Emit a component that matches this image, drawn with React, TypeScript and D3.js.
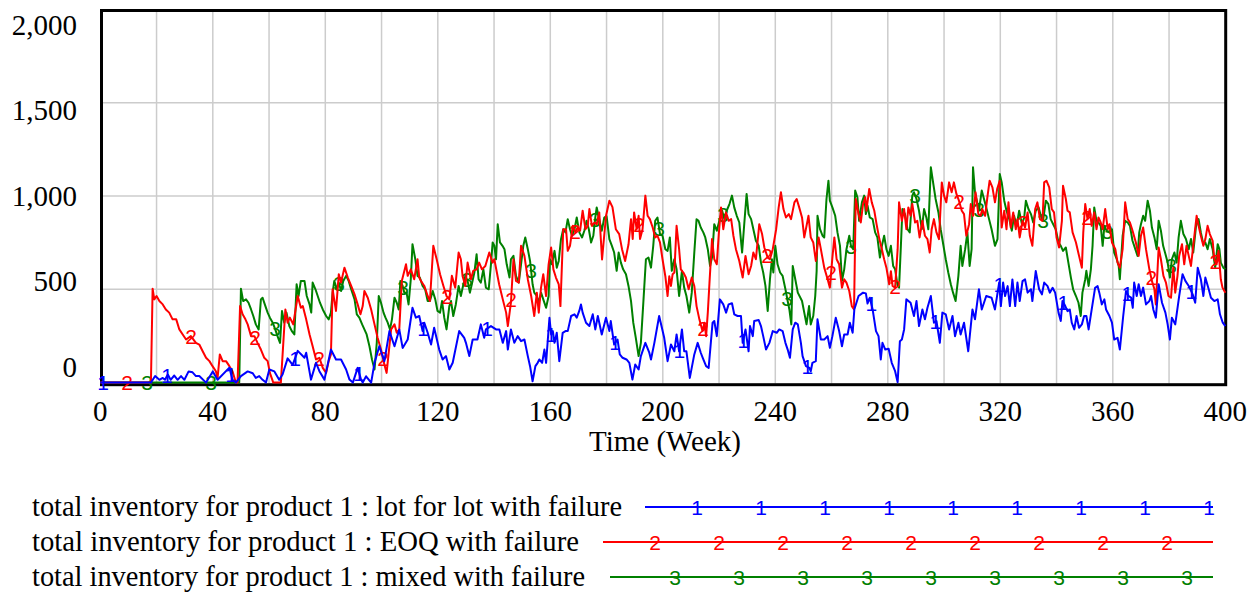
import React from "react";
import * as d3 from "d3";

type Pt = [number, number];

const lotForLot: Pt[] = [[0,0],[18,0],[19.5,35],[21,15],[22.2,25],[23,15],[24,43],[25,15],[26.3,38],[27.5,15],[28.7,35],[29.9,15],[31.4,60],[32.8,55],[34,35],[35.2,35],[37.6,0],[40,60],[41.7,15],[45.9,80],[47,15],[48.2,0],[50,35],[52.4,60],[54.2,50],[55.3,25],[56.5,35],[57.7,15],[58.9,0],[60.1,70],[61.9,60],[63.6,15],[64.8,43],[66.6,130],[68.4,95],[70.2,170],[72.6,133],[73.2,160],[74.9,16],[76.7,106],[77.9,61],[79.7,16],[82,177],[83.8,124],[85.6,124],[87.4,70],[88.6,16],[89.8,0],[91.5,79],[92.7,16],[93.3,0],[94.5,34],[96.3,0],[97.5,106],[99.2,195],[101,115],[102.8,276],[104.6,195],[106.3,285],[107.5,186],[109.3,231],[111,401],[112.2,348],[113.4,357],[114.6,276],[115.2,321],[116.4,267],[117.6,204],[118.7,294],[120.5,177],[121.7,124],[122.9,142],[124.1,70],[125.3,106],[127.6,276],[129.4,240],[130,213],[131.2,142],[132.4,231],[134.1,231],[135.3,312],[136.5,240],[137.1,285],[138.9,303],[140.7,285],[141.9,285],[143.1,213],[144.3,276],[144.9,177],[146,285],[147.2,213],[148.4,249],[149.6,222],[150.8,231],[152,142],[152.8,88],[153.7,7],[154.7,88],[155.5,106],[156.1,124],[157.1,106],[157.9,177],[158.5,106],[159.7,347],[160.3,258],[160.9,276],[161.5,213],[162.3,267],[163.2,115],[164.4,267],[165.4,276],[166.2,276],[167.4,357],[168.6,366],[169.4,348],[170.3,384],[170.9,419],[171.5,375],[172.7,321],[173.9,303],[175.1,366],[176,285],[176.9,357],[178.3,258],[179.8,348],[181,276],[181.5,330],[182.7,204],[183.9,231],[184.7,151],[185.7,133],[187.1,124],[188.1,106],[189.2,16],[190.2,97],[191.4,70],[192.2,142],[193.8,213],[195.2,160],[195.8,124],[197,213],[198.7,357],[200.5,240],[201.7,115],[202.9,204],[204.1,168],[204.9,258],[205.8,168],[206.8,285],[207.6,168],[208.4,168],[209.6,25],[211.2,151],[212.4,213],[213.5,160],[214.2,133],[215.4,88],[216.3,79],[217.7,321],[218.3,330],[219.2,249],[220.3,446],[221.5,419],[222.5,375],[223.4,419],[224.6,425],[225.4,366],[226.6,357],[227.8,357],[228.4,213],[229.4,285],[230.5,168],[231,303],[232,249],[232.5,330],[234.1,335],[234.9,303],[235.7,249],[236.7,177],[237.9,213],[239.1,276],[240.5,267],[241.4,285],[242.6,276],[243.6,213],[244.4,177],[245.2,133],[246.2,285],[247.1,321],[248,312],[249.1,213],[249.7,142],[250.9,88],[252.1,79],[252.6,61],[253.2,106],[254.4,115],[255,339],[256.2,231],[257.4,231],[258.6,249],[259.4,186],[260.3,249],[261.5,348],[262.7,276],[263.7,195],[264.5,258],[265.7,258],[266.5,321],[267.5,267],[268.1,392],[269.6,464],[271.2,482],[272.2,478],[272.8,424],[273.6,455],[274.6,392],[275.8,276],[276.7,249],[277.5,124],[278.1,213],[279.1,177],[280.3,181],[281.4,106],[282.6,61],[283.5,2],[284.3,222],[285,231],[285.8,285],[286.6,446],[288.1,428],[289.3,357],[290.2,437],[291.1,303],[292.3,392],[293.2,339],[294.1,401],[295.3,464],[296.4,321],[297.3,330],[298.5,213],[299.4,375],[300.6,366],[301.8,285],[303,357],[303.9,249],[305.1,321],[305.9,258],[307.1,321],[308.6,168],[310.1,392],[311,339],[312.4,500],[313.4,392],[315,464],[316.9,455],[318.1,392],[319.6,536],[320.2,410],[321,536],[321.7,464],[322.6,517],[323.4,410],[324.3,553],[325.3,410],[326.1,536],[326.9,437],[327.9,544],[328.8,553],[329.7,482],[330.9,500],[331.4,437],[332.6,598],[333.8,500],[334.8,473],[335.6,536],[336.8,517],[337.6,482],[338.6,508],[339.5,482],[340.7,375],[341.5,330],[342.1,437],[343.1,410],[343.9,383],[344.7,392],[345.4,321],[346.3,285],[347.1,357],[348,294],[349,312],[349.8,357],[350.6,357],[351.4,285],[352.5,392],[353.7,508],[354.6,517],[355.2,482],[356.1,419],[357,446],[357.6,392],[358.8,357],[359.7,321],[360.5,231],[361.7,240],[362.5,177],[363.7,357],[364.7,491],[365.6,464],[366.5,455],[367.1,401],[367.6,536],[368.5,464],[369.2,527],[370,464],[370.8,509],[371.8,419],[373,437],[373.6,464],[374.4,392],[375.3,348],[376.3,527],[377.5,428],[378.7,375],[379.5,312],[380.3,231],[381,348],[382.2,312],[383.6,464],[384.8,581],[385.8,545],[387,518],[388.4,473],[389.3,428],[390.2,616],[391.3,554],[392.2,464],[392.9,563],[394.1,500],[394.9,455],[396.1,437],[397.3,446],[398.1,366],[399.1,321],[400,303]];

const eoq: Pt[] = [[0,0],[18,0],[18.6,503],[19.2,446],[20,464],[21,437],[22.2,419],[23.3,392],[24.5,375],[25.7,339],[27,339],[28.1,285],[29.3,258],[30.5,231],[32.2,249],[34,213],[35.2,204],[36.4,168],[37.6,133],[38.8,115],[39.9,88],[41.1,61],[41.7,25],[42.5,151],[43.5,115],[44.7,115],[45.9,88],[47,61],[48.2,0],[48.8,0],[49.7,410],[50.6,366],[51.6,339],[52.4,312],[53.6,249],[54.8,249],[55.9,213],[57.1,177],[58.3,133],[59.5,115],[60.3,52],[61.5,0],[64.2,0],[65.8,392],[66.6,321],[67.4,348],[68.6,312],[70.2,464],[71.3,401],[72,410],[73.2,339],[74.4,258],[75.5,195],[76.7,124],[77.9,133],[79.1,79],[80.3,52],[81.2,115],[82,151],[82.6,500],[83.8,384],[84.8,581],[85.6,536],[86.8,616],[88,563],[89.2,518],[90.4,473],[91.5,419],[92.5,366],[93.3,410],[93.9,491],[95.1,455],[96.3,392],[97.5,312],[98.6,240],[99.8,177],[101,97],[101.8,52],[103.4,285],[104.6,312],[105.4,267],[106.3,285],[107.2,545],[108.7,634],[109.3,572],[110.4,607],[111.6,554],[112.8,661],[113.4,563],[114,545],[115.2,518],[116.4,464],[117.2,437],[118.4,733],[119.6,661],[120.8,581],[122,518],[123.1,464],[124.1,446],[125,572],[126.2,509],[127.4,697],[128.2,661],[128.8,572],[129.8,518],[130.6,643],[131.8,554],[132.6,599],[133.8,607],[134.7,643],[135.7,607],[136.9,625],[138.3,697],[139.5,643],[140.1,661],[141.8,527],[143.1,446],[144.3,375],[144.9,303],[146,428],[146.9,661],[147.8,545],[148.8,536],[149.6,733],[150.8,679],[152,554],[153.2,464],[154.3,357],[155.2,482],[155.9,375],[156.7,509],[157.5,581],[158.5,464],[159.4,634],[160.3,724],[161.1,607],[162,563],[163,527],[163.6,410],[164.6,822],[165.6,822],[166.2,706],[167,733],[168,840],[168.9,805],[169.7,831],[170.6,814],[171.5,921],[172.5,822],[173.3,840],[173.9,930],[174.8,840],[175.7,858],[176.5,849],[177.4,912],[178.4,660],[179.8,893],[181,975],[182.1,940],[183.3,822],[184.5,796],[185.5,715],[186.6,652],[187.8,740],[188.7,876],[189.3,770],[189.8,912],[190.7,822],[191.4,894],[191.9,770],[192.8,822],[193.8,1002],[194.6,894],[195.4,876],[196.4,831],[197.3,778],[198.1,787],[199,751],[199.9,661],[200.9,570],[201.7,464],[202.3,570],[202.9,518],[203.5,581],[204.1,590],[204.9,840],[205.8,715],[206.4,607],[207.3,590],[208.2,563],[209.2,500],[210.3,563],[211.2,518],[212,410],[213,339],[214.1,276],[214.8,321],[215.4,249],[216,375],[216.6,536],[217.5,769],[218.3,661],[219.2,634],[219.9,796],[220.7,939],[221.5,822],[222.5,912],[223.4,867],[224.3,876],[225.1,787],[226,715],[227.2,652],[228.4,563],[229.4,679],[230.5,581],[231.4,625],[232.2,697],[233.1,661],[234.3,849],[235.3,796],[236.1,724],[237.3,670],[238.1,661],[239.1,715],[240.3,822],[241.2,939],[242,1020],[242.9,930],[243.8,885],[244.8,903],[245.6,876],[246.8,966],[247.6,984],[248.5,939],[249.5,885],[250.3,778],[251.1,840],[251.8,894],[252.6,778],[253.5,751],[254.4,652],[255.4,778],[256.2,715],[257.4,616],[258.6,554],[259.4,509],[260.3,670],[261,778],[261.8,661],[262.7,634],[263.7,509],[264.5,554],[265.3,536],[266.3,491],[267.2,410],[268,392],[268.6,984],[269.6,903],[270.4,858],[271.2,957],[272,993],[272.4,921],[273.4,1038],[274.3,966],[275.2,921],[276,849],[277,769],[277.9,715],[278.7,661],[279.5,616],[280.5,527],[281.1,597],[281.7,518],[282.6,509],[283.5,715],[284,966],[285,867],[285.8,930],[286.6,822],[287.3,939],[288.1,894],[288.7,957],[289.7,858],[290.5,867],[291.3,778],[292.3,867],[293.2,787],[294.1,769],[294.9,697],[295.6,822],[296.4,876],[297.3,805],[298.2,769],[299.2,1073],[300,1002],[300.8,966],[301.8,1073],[302.7,1020],[303.5,1073],[304.4,1011],[305.3,975],[306.3,921],[307.1,903],[307.9,787],[308.9,849],[309.5,957],[310.3,894],[311.2,1020],[312.2,903],[313,894],[313.6,930],[314.6,894],[315.4,993],[316.2,1082],[317.2,1046],[318.1,966],[318.9,1038],[319.8,1082],[320.5,831],[321.4,921],[322.2,822],[322.9,966],[323.7,831],[324.6,912],[325.5,822],[326.1,876],[326.9,778],[327.9,867],[328.8,831],[329.7,912],[330.5,787],[331.4,733],[332.4,930],[333.2,966],[334.1,876],[335,867],[335.6,1073],[336.4,1082],[337.4,1046],[338.3,930],[339.1,912],[340,778],[340.9,724],[341.9,867],[342.3,1055],[343.3,984],[343.9,921],[344.7,912],[345.7,805],[346.9,751],[348,679],[349,616],[349.5,805],[350.2,957],[351,876],[351.8,930],[352.5,840],[353.4,912],[354.2,822],[354.9,885],[355.7,858],[356.4,822],[357.3,930],[358.2,822],[358.8,849],[359.7,751],[360.9,715],[361.7,643],[362.5,616],[363.5,715],[364.4,966],[365.3,876],[366.1,858],[367,815],[368.2,751],[369.2,679],[370,787],[370.8,831],[371.8,715],[373,607],[373.9,545],[374.8,500],[375.3,419],[376.3,724],[377.1,661],[378,572],[378.9,536],[379.8,464],[380.7,455],[381.5,616],[382.2,482],[383,572],[383.6,679],[384.6,742],[385.4,634],[386.2,733],[387,679],[387.8,625],[388.6,733],[389.8,894],[390.5,840],[391.3,787],[392.2,733],[392.9,769],[393.7,840],[394.5,796],[395.5,760],[396.1,661],[396.9,634],[397.6,706],[398.4,554],[399,509],[400,482]];

const mixed: Pt[] = [[0,0],[49.4,0],[50,503],[50.8,437],[51.8,446],[52.7,428],[53.6,392],[54.4,357],[55.3,312],[56.3,285],[57.1,446],[57.7,455],[58.7,410],[59.5,375],[60.3,348],[61.3,321],[62.2,285],[63,249],[63.9,213],[64.6,384],[65.4,321],[66.2,375],[67.2,303],[68.1,276],[69,258],[69.8,527],[70.5,464],[71.3,545],[72.6,545],[73.4,464],[74.4,419],[75,375],[75.5,536],[76.5,500],[77.3,464],[78.1,428],[79.1,392],[80.3,357],[81.2,339],[82,375],[82.6,482],[83.2,545],[84.1,500],[84.8,536],[85.6,491],[86.4,545],[87.4,572],[88.3,545],[89.2,500],[90.4,446],[91.2,366],[92.1,348],[93.1,312],[93.9,285],[94.7,258],[95.7,195],[96.6,124],[97.5,70],[98.3,213],[99,464],[99.8,428],[100.7,375],[101.4,348],[102.2,321],[103,285],[103.7,339],[104.6,455],[105.4,428],[106.1,392],[106.7,545],[107.5,518],[108.1,482],[108.9,482],[109.6,419],[110.4,554],[111,742],[112,661],[112.8,572],[113.6,563],[114.6,518],[115.5,500],[116.4,437],[117.2,437],[118.2,491],[119.1,446],[119.9,384],[120.8,375],[121.5,437],[122.3,348],[123.1,285],[124.1,410],[124.7,437],[125.5,357],[126.4,419],[127.4,518],[128.2,464],[129.1,527],[129.8,572],[130.6,545],[131.4,482],[132.1,527],[133,590],[133.8,688],[134.5,554],[135.3,536],[136.2,607],[137.1,509],[138.1,500],[138.9,634],[139.5,751],[140.1,733],[140.7,661],[141.3,849],[142.1,751],[143,733],[143.7,715],[144.5,634],[145.5,563],[146,661],[146.9,679],[147.8,572],[148.8,536],[149.6,634],[150.4,733],[151.1,778],[152,715],[152.8,652],[153.7,527],[154.3,482],[155.2,464],[155.9,428],[156.7,482],[157.5,446],[158.5,401],[159.4,464],[159.9,661],[160.6,634],[161.5,706],[162.3,616],[163,652],[163.8,769],[164.6,822],[165.4,805],[166.2,876],[167,822],[167.7,787],[168.6,822],[169.4,885],[170.3,805],[171.3,778],[172.1,814],[172.9,867],[173.7,822],[174.5,751],[175.3,787],[176,885],[176.5,939],[177.4,876],[178.3,814],[179.2,885],[180,893],[181,769],[181.9,733],[182.7,697],[183.6,599],[184.3,697],[185.1,643],[185.9,607],[186.9,581],[187.8,518],[188.7,437],[189.5,321],[190.4,240],[191.4,142],[192.2,213],[193,410],[194,661],[194.9,670],[195.8,616],[196.6,733],[197.3,867],[198.1,885],[199,796],[199.9,787],[200.9,715],[201.7,706],[202.5,778],[203.2,599],[204.1,661],[204.9,607],[205.8,464],[206.8,599],[207.6,509],[208.4,464],[209.4,375],[210.3,482],[211.2,697],[212,876],[212.7,867],[213.5,831],[214.4,805],[215.1,778],[216,715],[216.8,625],[217.5,670],[218.3,849],[219.2,814],[220.1,867],[221.1,921],[221.9,876],[222.7,921],[223.7,957],[224.6,1002],[225.4,939],[226.3,894],[227.2,858],[228.2,697],[229,858],[229.8,1011],[230.5,903],[231.4,876],[232.2,822],[233.1,760],[234.1,733],[234.9,643],[235.7,590],[236.5,518],[237.3,384],[238.1,554],[238.8,661],[239.3,590],[240,733],[240.8,634],[241.7,590],[242.6,572],[243.6,500],[244.4,437],[245,392],[245.7,312],[246.2,625],[247.1,554],[248,482],[249.5,437],[250.3,375],[251.1,312],[252,410],[252.6,312],[253.5,357],[254.2,464],[254.7,599],[255,894],[255.9,822],[256.8,787],[257.4,778],[258.2,984],[258.9,1082],[259.4,975],[260.3,939],[261.3,894],[262.1,805],[263,733],[263.7,545],[264.5,607],[265.3,715],[266.3,787],[266.9,733],[267.7,715],[268.4,1029],[269.2,993],[269.8,867],[270.8,966],[271.6,1002],[272.2,903],[272.8,948],[273.6,885],[274.6,876],[275.5,805],[276.3,778],[277.2,670],[277.9,733],[278.7,787],[279.5,715],[280.3,679],[281.1,733],[281.9,625],[282.6,607],[283.5,518],[284,509],[284.6,715],[285.2,930],[286.1,903],[287,822],[287.8,805],[288.7,1002],[289.3,1020],[290.2,984],[291.1,921],[292.1,822],[292.9,930],[293.7,885],[294.4,822],[295.3,1154],[296.1,1073],[297,984],[298,912],[298.8,822],[299.6,751],[300.6,661],[301.5,590],[302.4,527],[303.2,482],[304.1,437],[305.1,572],[305.9,733],[306.5,625],[307.5,715],[308.3,805],[309.1,625],[309.8,715],[310.3,1154],[311,1020],[311.8,966],[312.4,921],[313.4,1029],[314.2,984],[315,939],[316,876],[316.9,822],[318.1,733],[319,769],[319.8,1118],[320.5,1073],[321.4,975],[322.2,921],[323.2,876],[324.1,814],[324.9,894],[325.8,840],[326.7,921],[327.7,849],[328.5,885],[329.1,975],[330,930],[330.9,903],[331.7,858],[332.6,921],[333.6,939],[334.4,894],[335.2,867],[336.2,975],[337.1,957],[337.9,876],[338.8,849],[339.7,822],[340.7,751],[341.5,733],[342.3,706],[343.3,724],[344.2,643],[345.1,563],[345.9,500],[346.9,464],[347.8,428],[348.6,357],[349.2,482],[350.2,554],[350.6,599],[351.4,518],[352.2,607],[352.8,733],[353.4,939],[354.2,867],[354.9,858],[355.7,840],[356.4,733],[357,840],[357.8,814],[358.8,805],[359.7,822],[360.5,697],[361.4,661],[362.1,625],[362.5,554],[363.5,787],[364.4,867],[365.3,858],[366.1,840],[367,760],[368,715],[368.8,679],[369.4,805],[370,849],[370.8,894],[371.5,867],[372.4,975],[373.2,921],[373.9,831],[374.8,778],[375.6,715],[376.3,867],[377.1,814],[377.9,733],[378.9,679],[379.5,643],[380.3,563],[381,661],[381.9,697],[382.7,643],[383.4,778],[384.2,867],[385.1,796],[386,770],[387,715],[387.8,770],[388.6,697],[389.6,840],[390.5,876],[391.3,805],[392.2,742],[392.9,751],[393.7,715],[394.5,770],[395.5,715],[396.4,616],[397.3,742],[397.9,715],[398.4,643],[399.3,616],[400,607]];

const seriesNames = [
  "total inventory for product 1 : lot for lot with failure",
  "total inventory for product 1 : EOQ with failure",
  "total inventory for product 1 : mixed with failure",
];
const seriesMarks = ["1", "2", "3"];
const seriesColors = ["#0000ff", "#ff0000", "#008000"];
const yTickValues = [0, 500, 1000, 1500, 2000];
const yGridValues = [500, 1000, 1500];
const xTickValues = [0, 40, 80, 120, 160, 200, 240, 280, 320, 360, 400];
const xGridValues = d3.range(20, 400, 20);
const xTitle = "Time (Week)";

// marker placement along the curves (weeks)
const markerStart = [1, 9.5, 16.6];
const markerStep = 22.76;

const W = 1260;
const H = 592;
const plot = { left: 100.3, right: 1225.3, top: 9.4, bottom: 382.6 };
const serif = "'Liberation Serif', 'Times New Roman', serif";
const sans = "'Liberation Sans', Arial, sans-serif";

function interp(data: Pt[], w: number): number {
  const i = d3.bisector((d: Pt) => d[0]).left(data, w);
  if (i <= 0) return data[0][1];
  if (i >= data.length) return data[data.length - 1][1];
  const a = data[i - 1], b = data[i];
  const t = (w - a[0]) / (b[0] - a[0] || 1);
  return a[1] + t * (b[1] - a[1]);
}

export default function App() {
  const x = d3.scaleLinear().domain([0, 400]).range([plot.left, plot.right]);
  const y = d3.scaleLinear().domain([0, 2000]).range([plot.bottom, plot.top]);
  const yLabel = d3.scaleLinear().domain([0, 2000]).range([376.7, 35]);
  const line = d3.line<Pt>().x((d) => x(d[0])).y((d) => y(d[1]));
  const fmt = d3.format(",");
  const series = [lotForLot, eoq, mixed];
  const drawOrder = [2, 1, 0];

  const legendY = [507, 542, 577];
  const legendTextW = [590, 547, 553];
  const legendLineStart = [645, 603, 610];
  const legendLineEnd = 1213;
  const legendMarkStart = [697, 655, 675];

  return (
    <div style={{ position: "absolute", left: 0, top: 0 }}>
      <svg width={W} height={H} viewBox={`0 0 ${W} ${H}`} style={{ display: "block", background: "#fff" }}>
        <rect x={0} y={0} width={W} height={H} fill="#fff" />
        {/* grid */}
        {xGridValues.map((v) => (
          <line key={"gx" + v} x1={x(v)} x2={x(v)} y1={plot.top} y2={plot.bottom + 1} stroke="#cccccc" strokeWidth={1.5} />
        ))}
        {yGridValues.map((v) => (
          <line key={"gy" + v} x1={plot.left} x2={plot.right} y1={y(v)} y2={y(v)} stroke="#cccccc" strokeWidth={1.5} />
        ))}
        {/* frame */}
        <rect x={101.5} y={10.5} width={1124.2} height={374.2} fill="none" stroke="#000" strokeWidth={3} />
        {/* series */}
        {drawOrder.map((si) => {
          const data = series[si];
          const marks = d3.range(markerStart[si], 400, markerStep);
          return (
            <g key={"s" + si}>
              <path d={line(data) || ""} fill="none" stroke={seriesColors[si]} strokeWidth={2} strokeLinejoin="round" />
              {marks.map((w, k) => (
                <text key={k} x={x(w)} y={y(interp(data, w))} dy="0.36em" textAnchor="middle" fontFamily={sans} fontSize={21} fill={seriesColors[si]}>
                  {seriesMarks[si]}
                </text>
              ))}
            </g>
          );
        })}
        {/* y tick labels */}
        {yTickValues.map((v) => (
          <text key={"yl" + v} x={77} y={yLabel(v)} textAnchor="end" fontFamily={serif} fontSize={29} fill="#000">
            {fmt(v)}
          </text>
        ))}
        {/* x tick labels */}
        {xTickValues.map((v) => (
          <text key={"xl" + v} x={x(v)} y={421} textAnchor="middle" fontFamily={serif} fontSize={29} fill="#000">
            {v}
          </text>
        ))}
        <text x={665} y={451} textAnchor="middle" fontFamily={serif} fontSize={29} fill="#000">
          {xTitle}
        </text>
        {/* legend */}
        {seriesNames.map((name, i) => (
          <g key={"lg" + i}>
            <text x={32} y={legendY[i] + 9} fontFamily={serif} fontSize={29} fill="#000" textLength={legendTextW[i]} lengthAdjust="spacingAndGlyphs">
              {name}
            </text>
            <line x1={legendLineStart[i]} x2={legendLineEnd} y1={legendY[i]} y2={legendY[i]} stroke={seriesColors[i]} strokeWidth={2} />
            {d3.range(legendMarkStart[i], legendLineEnd + 1, 64).map((mx, k) => (
              <text key={k} x={mx} y={legendY[i]} dy="0.36em" textAnchor="middle" fontFamily={sans} fontSize={21} fill={seriesColors[i]}>
                {seriesMarks[i]}
              </text>
            ))}
          </g>
        ))}
      </svg>
    </div>
  );
}
